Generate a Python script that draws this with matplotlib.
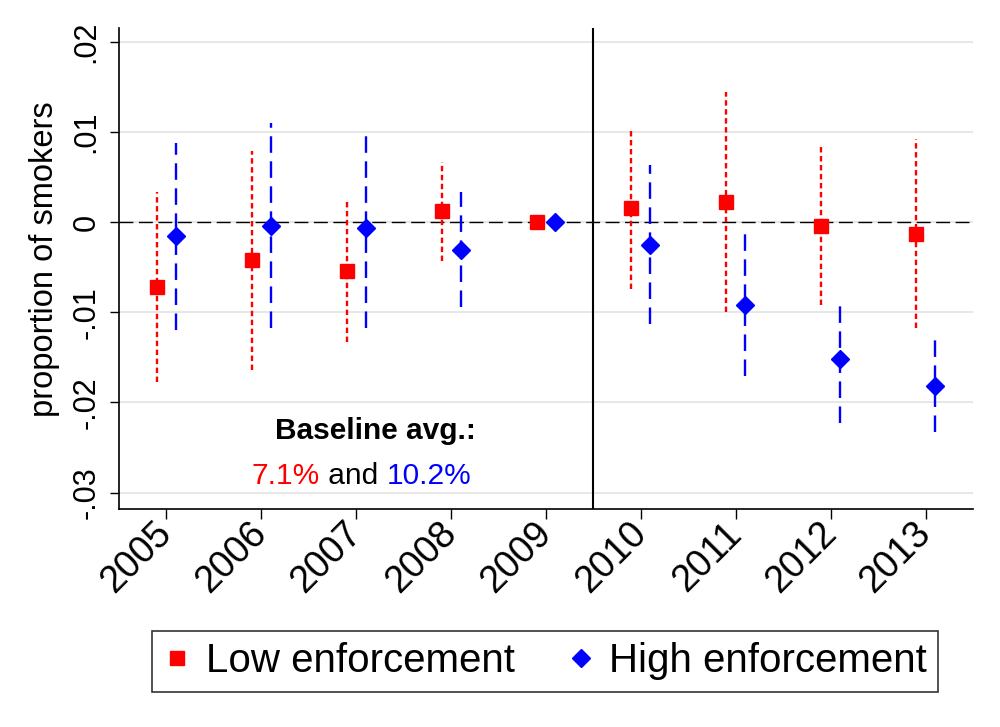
import numpy as np
import matplotlib
matplotlib.use("Agg")
import matplotlib.pyplot as plt
from matplotlib.lines import Line2D

years = [2005, 2006, 2007, 2008, 2009, 2010, 2011, 2012, 2013]

# low enforcement (red): point estimate and 95% CI
low_est = [-0.0072, -0.0042, -0.0054, 0.0012, 0.0, 0.0016, 0.0022, -0.0005, -0.0013]
low_hi = [0.0033, 0.0079, 0.0025, 0.0067, 0.0, 0.0101, 0.0144, 0.0083, 0.0092]
low_lo = [-0.0177, -0.0164, -0.0133, -0.0043, 0.0, -0.0074, -0.0100, -0.0092, -0.0118]

# high enforcement (blue)
high_est = [-0.0016, -0.0004, -0.0007, -0.0031, 0.0, -0.0026, -0.0092, -0.0152, -0.0182]
high_hi = [0.0088, 0.0110, 0.0104, 0.0033, 0.0, 0.0063, -0.0012, -0.0087, -0.0131]
high_lo = [-0.0120, -0.0118, -0.0118, -0.0094, 0.0, -0.0113, -0.0171, -0.0223, -0.0233]

yticks = [-0.03, -0.02, -0.01, 0, 0.01, 0.02]
ylabels = ['-.03', '-.02', '-.01', '0', '.01', '.02']

plt.rcParams['font.family'] = ['Liberation Sans', 'DejaVu Sans']

red = '#ff0000'
blue = '#0000ff'

fig = plt.figure(figsize=(10, 7.27), dpi=100)
ax = fig.add_axes([0.119, 0.300, 0.854, 0.6615])

x = np.array(years, dtype=float)
off = 0.1

for i in range(len(years)):
    if years[i] == 2009:
        continue
    ax.plot([x[i] - off] * 2, [low_lo[i], low_hi[i]], color=red, lw=1.7,
            dashes=(2.3, 1.5), zorder=2)
    ax.plot([x[i] + off] * 2, [high_lo[i], high_hi[i]], color=blue, lw=1.7,
            dashes=(7, 3.6), zorder=2)

ax.plot(x - off, low_est, ls='none', marker='s', ms=10, color=red, zorder=3)
ax.plot(x + off, high_est, ls='none', marker='D', ms=9.5, color=blue, zorder=3)

ax.axhline(0, color='black', lw=1, dashes=(10, 4), zorder=1)
ax.axvline(2009.5, color='black', lw=1.5, zorder=1)

ax.set_xlim(2004.5, 2013.5)
ax.set_ylim(-0.0318, 0.0215)
ax.set_yticks(yticks)
ax.set_yticklabels(ylabels, rotation=90, va='center', fontsize=22)
ax.set_xticks(years)
ax.set_xticklabels([str(y) for y in years], rotation=45, ha='right',
                   va='center', rotation_mode='anchor', fontsize=27)
ax.tick_params(axis='y', length=6.5, width=1, pad=6)
ax.tick_params(axis='x', length=7, width=1, pad=7)
ax.grid(axis='y', color='#e3e3e3', lw=1.2, zorder=0)
ax.set_axisbelow(True)
for s in ['top', 'right']:
    ax.spines[s].set_visible(False)
for s in ['left', 'bottom']:
    ax.spines[s].set_linewidth(1.2)

ax.set_ylabel('proportion of smokers', fontsize=23.5)
ax.yaxis.set_label_coords(-0.069, 0.52)

ax.text(2007.2, -0.0232, 'Baseline avg.:', fontsize=21.5, fontweight='bold',
        ha='center', va='center')
t1 = ax.text(2005.9, -0.0282, '7.1%', fontsize=21.5, color=red, ha='left', va='center')
t2 = ax.annotate(' and ', xycoords=t1, xy=(1, 0.5), va='center', ha='left',
                 fontsize=21.5, color='black')
ax.annotate('10.2%', xycoords=t2, xy=(1, 0.5), va='center', ha='left',
            fontsize=21.5, color=blue)

handles = [Line2D([], [], ls='none', marker='s', ms=10, color=red),
           Line2D([], [], ls='none', marker='D', ms=9.5, color=blue)]
leg = fig.legend(handles, ['Low enforcement', 'High enforcement'], ncol=2,
                 loc='center', bbox_to_anchor=(0.545, 0.0901),
                 prop={'size': 29}, frameon=True,
                 fancybox=False, edgecolor='black', handlelength=0.7,
                 handletextpad=0.35, columnspacing=1.3, borderpad=0.28,
                 borderaxespad=0)
leg.get_frame().set_linewidth(1.2)

fig.savefig('out.png', dpi=100)
